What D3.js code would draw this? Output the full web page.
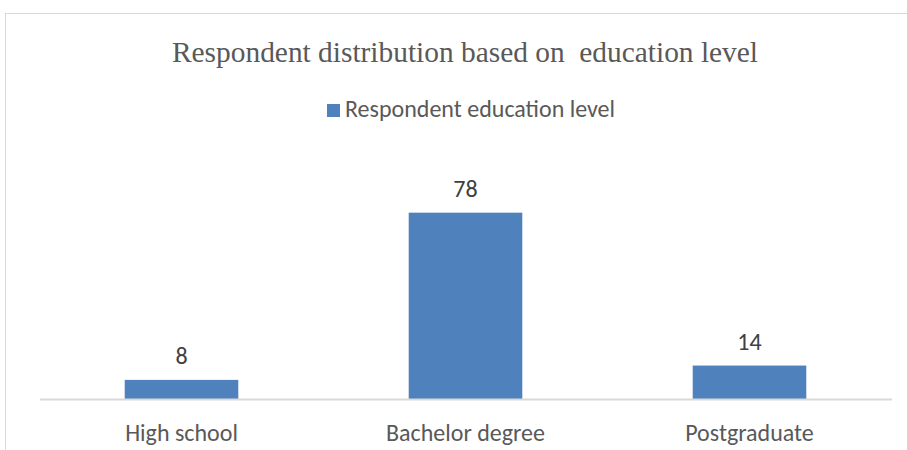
<!DOCTYPE html>
<html><head><meta charset="utf-8">
<script src="https://cdn.jsdelivr.net/npm/d3@7"></script>
<style>body{margin:0;background:#fff}svg{display:block}</style>
</head><body>
<svg id="c" width="907" height="450"></svg>
<script>
const categories = ["High school", "Bachelor degree", "Postgraduate"];
const values = [8, 78, 14];
const seriesName = "Respondent education level";
const title = "Respondent distribution based on  education level";

const svg = d3.select("#c");
const W = 907, H = 450;
const margin = {left: 39.5, right: 15.5, top: 184, bottom: 51};
const sans = "Carlito, Calibri, 'Liberation Sans Narrow', 'Noto Sans', sans-serif";

svg.append("rect").attr("x",5.5).attr("y",13.5).attr("width",W+10).attr("height",H+10)
  .attr("fill","#fff").attr("stroke","#d9d9d9").attr("stroke-width",1);

const x = d3.scaleBand().domain(categories).range([margin.left, W-margin.right])
  .paddingInner(0.6).paddingOuter(0.3);
const y = d3.scaleLinear().domain([0,90]).range([H-margin.bottom, margin.top]);

svg.append("text").attr("x",465).attr("y",62).attr("text-anchor","middle")
  .attr("font-family","'Liberation Serif','Times New Roman',serif").attr("font-size",29.4)
  .attr("fill","#595959").style("white-space","pre").text(title);

const lg = svg.append("g");
lg.append("rect").attr("x",327).attr("y",104).attr("width",13).attr("height",13).attr("fill","#4f81bd");
lg.append("text").attr("x",345).attr("y",117).attr("font-family",sans).attr("font-size",24)
  .attr("fill","#595959").text(seriesName);

svg.selectAll("rect.bar").data(values).join("rect").attr("class","bar")
  .attr("x",(d,i)=>x(categories[i])).attr("width",x.bandwidth())
  .attr("y",d=>y(d)).attr("height",d=>y(0)-y(d)).attr("fill","#4f81bd");

svg.selectAll("text.lbl").data(values).join("text").attr("class","lbl")
  .attr("x",(d,i)=>x(categories[i])+x.bandwidth()/2).attr("y",d=>y(d)-16)
  .attr("text-anchor","middle").attr("font-family",sans).attr("font-size",24)
  .attr("fill","#404040").text(d=>d);

const ax = svg.append("g").attr("transform",`translate(0,${y(0)})`)
  .call(d3.axisBottom(x).tickSize(0).tickPadding(0));
ax.select(".domain").attr("stroke","#d9d9d9").attr("stroke-width",2);
ax.selectAll("text").attr("dy",null).attr("y",42).attr("font-family",sans).attr("font-size",24).attr("fill","#595959");
</script>
</body></html>
